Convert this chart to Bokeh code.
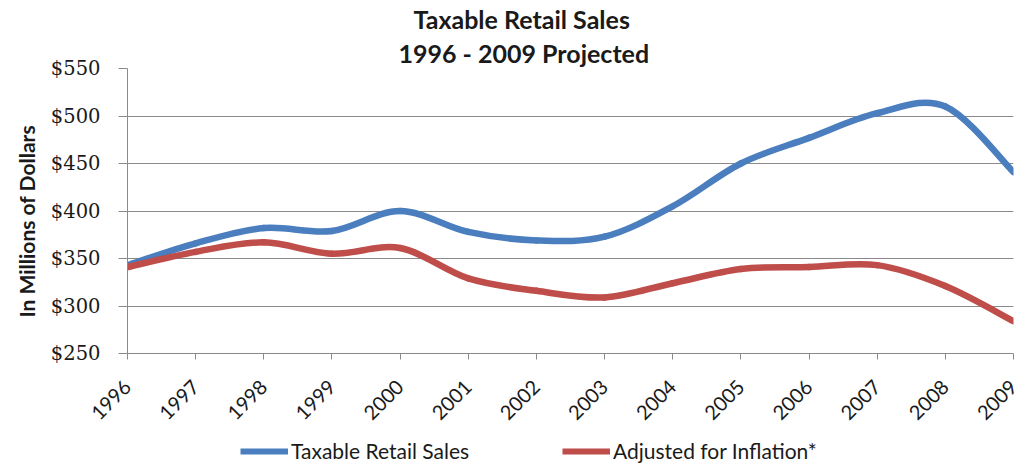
import numpy as np
from bokeh.plotting import figure
from bokeh.layouts import column
from bokeh.models import (Title, Legend, LegendItem, FixedTicker, NumeralTickFormatter,
                          Range1d, ColumnDataSource)
from bokeh.embed import file_html
from bokeh.resources import INLINE

years = [1996, 1997, 1998, 1999, 2000, 2001, 2002, 2003, 2004, 2005, 2006, 2007, 2008, 2009]
taxable_sales = [343, 366, 382, 379, 400, 378, 369, 373, 405, 450, 477, 503, 510, 441]
adjusted_inflation = [341, 357, 367, 355, 361, 329, 316, 309, 324, 339, 341, 343, 321, 284]
y_ticks = [250, 300, 350, 400, 450, 500, 550]

title_1 = "Taxable Retail Sales"
title_2 = "1996 - 2009 Projected"
y_title = "In Millions of Dollars"
name_1 = "Taxable Retail Sales"
name_2 = "Adjusted for Inflation*"

BLUE = "#4A7EBE"
RED = "#BF4D4A"
GRID = "#8a8a8a"
TXT = "#1a1a1a"

W = 1022
H_MAIN, H_LEG = 436, 30
FL, FR, FT, FB = 127, 1013, 67, 353

p = figure(width=W, height=H_MAIN, output_backend="svg", toolbar_location=None,
           x_range=Range1d(years[0], years[-1]), y_range=Range1d(250, 550),
           min_border_left=FL, min_border_right=W - FR,
           min_border_top=FT, min_border_bottom=H_MAIN - FB)
p.outline_line_color = None
p.background_fill_color = "white"
p.border_fill_color = "white"


def bezier_source(xs, ys):
    xs = np.asarray(xs, float)
    ys = np.asarray(ys, float)
    n = len(xs)
    d = dict(x0=[], y0=[], x1=[], y1=[], cx0=[], cy0=[], cx1=[], cy1=[])
    for i in range(n - 1):
        im1 = max(i - 1, 0)
        ip2 = min(i + 2, n - 1)
        d["x0"].append(xs[i]); d["y0"].append(ys[i])
        d["x1"].append(xs[i + 1]); d["y1"].append(ys[i + 1])
        d["cx0"].append(xs[i] + (xs[i + 1] - xs[im1]) / 6)
        d["cy0"].append(ys[i] + (ys[i + 1] - ys[im1]) / 6)
        d["cx1"].append(xs[i + 1] - (xs[ip2] - xs[i]) / 6)
        d["cy1"].append(ys[i + 1] - (ys[ip2] - ys[i]) / 6)
    return ColumnDataSource(d)


p.bezier(x0="x0", y0="y0", x1="x1", y1="y1", cx0="cx0", cy0="cy0", cx1="cx1", cy1="cy1",
         source=bezier_source(years, taxable_sales), line_color=BLUE, line_width=6.5,
         line_cap="round")
p.bezier(x0="x0", y0="y0", x1="x1", y1="y1", cx0="cx0", cy0="cy0", cx1="cx1", cy1="cy1",
         source=bezier_source(years, adjusted_inflation), line_color=RED, line_width=6.5,
         line_cap="round")

# grid
p.xgrid.grid_line_color = None
p.ygrid.grid_line_color = GRID
p.ygrid.grid_line_width = 1
p.ygrid.ticker = FixedTicker(ticks=y_ticks)

# y axis
ya = p.yaxis[0]
ya.ticker = FixedTicker(ticks=y_ticks)
ya.formatter = NumeralTickFormatter(format="$0")
ya.axis_line_color = GRID
ya.major_tick_line_color = GRID
ya.major_tick_out = 9
ya.major_tick_in = 0
ya.minor_tick_line_color = None
ya.major_label_standoff = 18
ya.major_label_text_font = "DejaVu Serif"
ya.major_label_text_font_size = "19.5px"
ya.major_label_text_color = TXT

# y-axis title as a side title so it can be shifted along the axis
p.add_layout(Title(text=y_title, align="left", offset=36, text_font="Lato",
                   text_font_style="bold", text_font_size="21px", text_color=TXT,
                   standoff=18), "left")

# x axis
xa = p.xaxis[0]
xa.ticker = FixedTicker(ticks=years)
xa.major_label_overrides = {y: str(y) for y in years}
xa.axis_line_color = GRID
xa.major_tick_line_color = GRID
xa.major_tick_out = 6
xa.major_tick_in = 0
xa.minor_tick_line_color = None
xa.major_label_orientation = np.pi / 4
xa.major_label_standoff = 24
xa.major_label_text_font = "Lato"
xa.major_label_text_font_size = "20px"
xa.major_label_text_color = TXT

# titles (later-added "above" titles sit closer to the plot)
p.title.text = title_1
p.title.align = "left"
p.title.offset = 413 - FL
p.title.text_font = "Lato"
p.title.text_font_style = "bold"
p.title.text_font_size = "25px"
p.title.text_color = TXT
p.title.standoff = 2
p.add_layout(Title(text=title_2, align="left", offset=398 - FL, text_font="Lato",
                   text_font_style="bold", text_font_size="25px", text_color=TXT,
                   standoff=2), "above")

# legend strip (series drawn out of its visible y-range; only legend shows)
lf = figure(width=W, height=H_LEG, output_backend="svg", toolbar_location=None,
            x_range=Range1d(years[0], years[-1]), y_range=Range1d(0, 1),
            x_axis_type=None, y_axis_type=None,
            min_border=0, min_border_left=0, min_border_right=0,
            min_border_top=0, min_border_bottom=0)
lf.outline_line_color = None
lf.xgrid.visible = False
lf.ygrid.visible = False
lb = lf.line(x=years, y=taxable_sales, line_color=BLUE, line_width=6)
lr = lf.line(x=years, y=adjusted_inflation, line_color=RED, line_width=6)
for r, name, gx in ((lb, name_1, 240), (lr, name_2, 562)):
    lg = Legend(items=[LegendItem(label=name, renderers=[r])], location=(gx - FL, 3),
                orientation="horizontal", glyph_width=48, glyph_height=20, label_height=20,
                label_standoff=3, padding=0, margin=0, spacing=0,
                border_line_color=None, background_fill_alpha=0,
                label_text_font="Lato", label_text_font_size="21px", label_text_color=TXT)
    lf.add_layout(lg, "center")

layout = column(p, lf, spacing=0)
open("out.html", "w").write(file_html(layout, INLINE))
